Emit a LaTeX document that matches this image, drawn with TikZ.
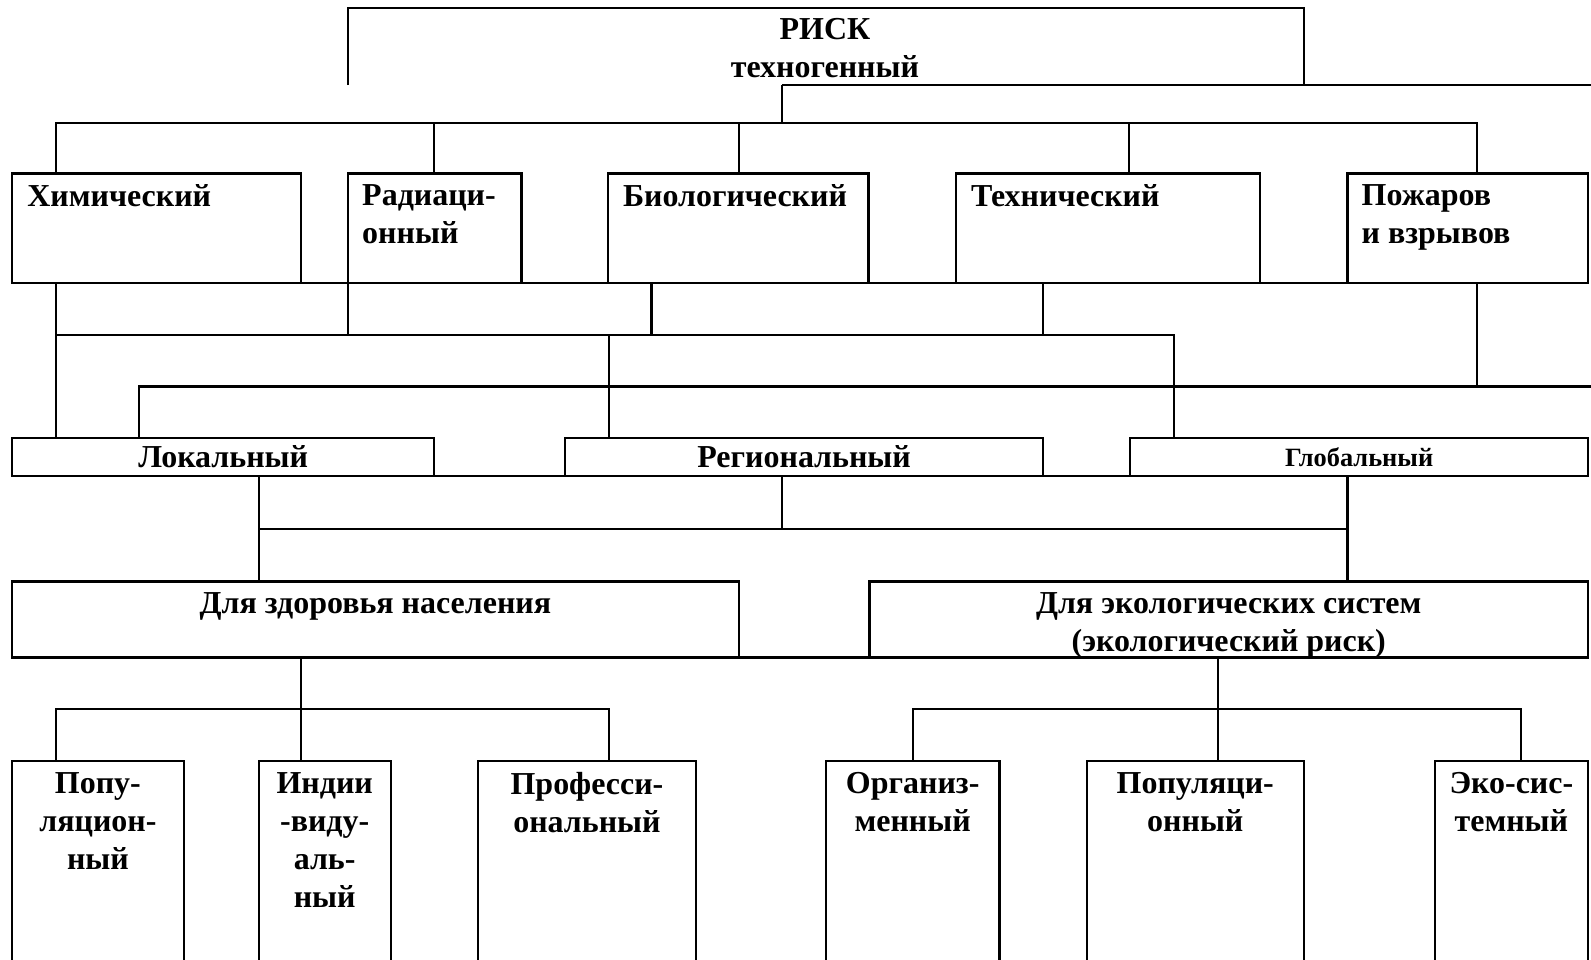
\documentclass[tikz,border=0pt]{standalone}
\usepackage{fontspec}
\setmainfont{Liberation Serif}
\usetikzlibrary{positioning}

\begin{document}
\begin{tikzpicture}[x=1pt, y=1pt, line width=2.2pt]
  \tikzstyle{box} = [draw, inner sep=0pt, outer sep=0pt, anchor=north west]
  \tikzstyle{word} = [font=\bfseries\fontsize{31.5}{37.5}\selectfont, inner sep=0pt, outer sep=0pt]
  \clip (0,0) rectangle (1568,-946);

  % top
  \node (risk) [word, align=center] at (813,-47) {РИСК\\техногенный};
  \coordinate (riskSW) at (343,-84);
  \coordinate (riskSE) at (1285,-84);
  \coordinate (riskstem) at (771,-84);
  \coordinate (edgeA) at (1568,-84);
  \coordinate (edgeB) at (1568,-381);
  \draw (riskSW) -- ++(0,76) -| (riskSE);
  \draw (riskstem) -- (edgeA);

  % kinds of risk
  \node (chem) [box, minimum width=285pt, minimum height=108pt] at (12,-171) {};
  \node (rad)  [box, minimum width=171pt, minimum height=108pt] at (343,-171) {};
  \node (bio)  [box, minimum width=257pt, minimum height=108pt] at (599,-171) {};
  \node (tech) [box, minimum width=300pt, minimum height=108pt] at (942,-171) {};
  \node (fire) [box, minimum width=237pt, minimum height=108pt] at (1328,-171) {};
  \node (chemT) [word, below right=11pt and 15pt of chem.north west] {Химический};
  \node (radT)  [word, align=left, below right=11pt and 14pt of rad.north west] {Радиаци-\\онный};
  \node (bioT)  [word, below right=11pt and 15pt of bio.north west] {Биологический};
  \node (techT) [word, below right=11pt and 15pt of tech.north west] {Технический};
  \node (fireT) [word, align=left, below right=11pt and 14pt of fire.north west] {Пожаров\\и взрывов};

  % scale
  \node (loc)  [box, word, minimum width=416pt, minimum height=37pt] at (12,-432) {Локальный};
  \node (reg)  [box, word, minimum width=471pt, minimum height=37pt] at (557,-432) {Региональный};
  \node (glob) [box, word, font=\bfseries\fontsize{26}{30}\selectfont,
                minimum width=451pt, minimum height=37pt] at (1114,-432) {Глобальный};

  % object
  \node (health) [box, minimum width=716pt, minimum height=75pt] at (12,-573) {};
  \node (eco)    [box, minimum width=708pt, minimum height=75pt] at (857,-573) {};
  \node (healthT) [word, below=11pt of health.north] {Для здоровья населения};
  \node (ecoT)    [word, align=center, below=11pt of eco.north] {Для экологических систем\\(экологический риск)};

  % levels
  \node (popa) [box, minimum width=169pt, minimum height=220pt] at (12,-750) {};
  \node (ind)  [box, minimum width=130pt, minimum height=220pt] at (255,-750) {};
  \node (prof) [box, minimum width=215pt, minimum height=220pt] at (471,-750) {};
  \node (org)  [box, minimum width=171pt, minimum height=220pt] at (814,-750) {};
  \node (popb) [box, minimum width=214pt, minimum height=220pt] at (1071,-750) {};
  \node (ecs)  [box, minimum width=151pt, minimum height=220pt] at (1414,-750) {};
  \node (popaT) [word, align=center, below=11pt of popa.north] {Попу-\\ляцион-\\ный};
  \node (indT)  [word, align=center, below=11pt of ind.north] {Индии\\-виду-\\аль-\\ный};
  \node (profT) [word, align=center, below=11pt of prof.north] {Професси-\\ональный};
  \node (orgT)  [word, align=center, below=11pt of org.north] {Организ-\\менный};
  \node (popbT) [word, align=center, below=11pt of popb.north] {Популяци-\\онный};
  \node (ecsT)  [word, align=center, below=11pt of ecs.north] {Эко-сис-\\темный};

  % risk -> kinds
  \draw (riskstem) -- ++(0,-37);
  \draw ([xshift=43pt]chem.north west) -- ++(0,50) -| ([xshift=128pt]fire.north west);
  \foreach \n/\dx in {rad/85, bio/129, tech/171}
    \draw ([xshift=\dx pt]\n.north west) -- ++(0,50);
  \draw (chem.south west) -- (fire.south east);

  % kinds -> scale
  \draw ([xshift=43pt]chem.south west) -- ([xshift=43pt]loc.north west);
  \draw ([xshift=43pt]chem.south west) ++(0,-51) -| ([xshift=43pt]glob.north west);
  \draw (rad.south west) -- ++(0,-51);
  \draw ([xshift=43pt]bio.south west) -- ++(0,-51);
  \draw ([xshift=86pt]tech.south west) -- ++(0,-51);
  \draw ([xshift=43pt]reg.north west) -- ++(0,102);
  \draw ([xshift=128pt]fire.south west) -- ++(0,-102) -| ([xshift=125pt]loc.north west);
  \draw ([xshift=128pt]fire.south west) ++(0,-102) -- (edgeB);
  \draw (loc.south west) -- (glob.south east);

  % scale -> object
  \draw ([xshift=243pt]loc.south west) -- ([xshift=243pt]health.north west);
  \draw ([xshift=214pt]glob.south west) -- ([xshift=471pt]eco.north west);
  \draw ([xshift=243pt]loc.south west) ++(0,-52) -| ([xshift=214pt]reg.south west);
  \draw ([xshift=214pt]reg.south west) ++(0,-52) -| ([xshift=214pt]glob.south west);
  \draw (health.south west) -- (eco.south east);

  % object -> levels
  \draw ([xshift=285pt]health.south west) -- ([xshift=42pt]ind.north west);
  \draw ([xshift=43pt]popa.north west) -- ++(0,51) -| ([xshift=129pt]prof.north west);
  \draw ([xshift=343pt]eco.south west) -- ([xshift=129pt]popb.north west);
  \draw ([xshift=86pt]org.north west) -- ++(0,51) -| ([xshift=85pt]ecs.north west);
\end{tikzpicture}
\end{document}
